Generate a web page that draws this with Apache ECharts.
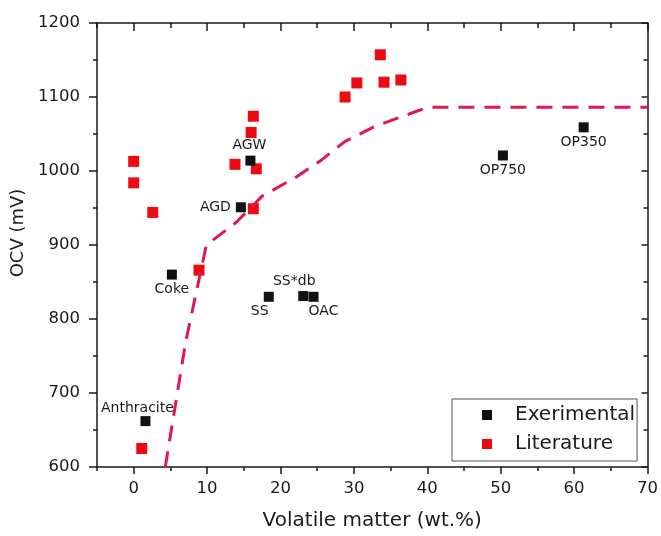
<!DOCTYPE html>
<html>
<head>
<meta charset="utf-8">
<script src="https://cdn.jsdelivr.net/npm/echarts@6/dist/echarts.min.js"></script>
<style>
  html, body { margin: 0; padding: 0; background: #fff; }
  #chart { width: 661px; height: 536px; }
</style>
</head>
<body>
<div id="chart"></div>
<script>
// Experimental samples: name, volatile matter (wt.%), OCV (mV)
const expNames = ['Anthracite', 'Coke', 'AGD', 'AGW', 'SS', 'SS*db', 'OAC', 'OP750', 'OP350'];
const expX = [1.6, 5.2, 14.6, 15.9, 18.4, 23.1, 24.5, 50.3, 61.3];
const expY = [662, 860, 951, 1014, 830, 831, 830, 1021, 1059];

// Values reported in the literature
const litX = [0, 0, 2.6, 13.8, 16.0, 16.3, 16.7, 16.3, 28.8, 30.4, 33.6, 34.1, 36.4, 1.1, 8.9];
const litY = [1013, 984, 944, 1009, 1052, 1074, 1003, 949, 1100, 1119, 1157, 1120, 1123, 625, 866];

// Dashed trend curve
const trendX = [4.3, 7.1, 9.9, 13.9, 17.5, 22.0, 25.6, 28.8, 32.8, 37.8, 40.0, 70.0];
const trendY = [600, 770, 900, 930, 966, 991, 1015, 1040, 1060, 1078, 1086, 1086];

// Axis tick values
const xMajorTicks = [0, 10, 20, 30, 40, 50, 60, 70];
const xMinorTicks = [-5, 5, 15, 25, 35, 45, 55, 65];

// Where each sample name sits relative to its marker
const labelPlace = {
  'Anthracite': { position: 'top', offset: [-8, 3] },
  'Coke': { position: 'bottom', offset: [0, -1] },
  'AGD': { position: 'left', offset: [-1, 0] },
  'AGW': { position: 'top', offset: [-1, 1] },
  'SS': { position: 'bottom', offset: [-9, -1] },
  'SS*db': { position: 'top', offset: [-9, 1] },
  'OAC': { position: 'bottom', offset: [10, -1] },
  'OP750': { position: 'bottom', offset: [0, -1] },
  'OP350': { position: 'bottom', offset: [0, -1] }
};

const FONT = 'DejaVu Sans';
const INK = '#1a1a1a';
const RED = '#ee0a12';
const TREND = '#e2174f';

const expData = expNames.map((n, i) => ({
  name: n,
  value: [expX[i], expY[i]],
  label: Object.assign({ show: true, formatter: '{b}', distance: 4, color: INK, fontSize: 14, fontFamily: FONT }, labelPlace[n])
}));
const litData = litX.map((x, i) => [x, litY[i]]);
const trendData = trendX.map((x, i) => [x, trendY[i]]);

const axisLineStyle = { color: INK, width: 1.5 };
const plain = v => String(v);

const chart = echarts.init(document.getElementById('chart'));
chart.setOption({
  animation: false,
  textStyle: { fontFamily: FONT },
  grid: { left: 97, right: 10, top: 23, bottom: 68 },
  legend: {
    data: ['Exerimental', 'Literature'],
    orient: 'vertical',
    left: 452,
    top: 399,
    icon: 'rect',
    itemWidth: 10,
    itemHeight: 10,
    itemGap: 9,
    padding: [6, 2, 7, 30],
    borderColor: '#555',
    borderWidth: 1,
    textStyle: { fontSize: 20, color: INK, fontFamily: FONT, lineHeight: 20, padding: [0, 0, 0, 18] }
  },
  xAxis: [
    {
      type: 'value', min: -5, max: 70, position: 'bottom',
      name: 'Volatile matter (wt.%)', nameLocation: 'middle', nameGap: 44,
      nameTextStyle: { fontSize: 20, color: INK, fontFamily: FONT },
      axisLine: { onZero: false, lineStyle: axisLineStyle },
      axisTick: { customValues: xMajorTicks, length: 7, lineStyle: axisLineStyle },
      axisLabel: { customValues: xMajorTicks, formatter: plain, fontSize: 16.5, color: INK, margin: 13, fontFamily: FONT },
      splitLine: { show: false }
    },
    {
      type: 'value', min: -5, max: 70, position: 'bottom',
      axisLine: { show: false, onZero: false },
      axisTick: { customValues: xMinorTicks, length: 4, lineStyle: axisLineStyle },
      axisLabel: { show: false },
      splitLine: { show: false }
    },
    {
      type: 'value', min: -5, max: 70, position: 'top',
      axisLine: { onZero: false, lineStyle: axisLineStyle },
      axisTick: { customValues: xMajorTicks, inside: true, length: 8, lineStyle: axisLineStyle },
      axisLabel: { show: false },
      splitLine: { show: false }
    },
    {
      type: 'value', min: -5, max: 70, position: 'top',
      axisLine: { show: false, onZero: false },
      axisTick: { customValues: xMinorTicks, inside: true, length: 5, lineStyle: axisLineStyle },
      axisLabel: { show: false },
      splitLine: { show: false }
    }
  ],
  yAxis: [
    {
      type: 'value', min: 600, max: 1200, interval: 100, position: 'left',
      name: 'OCV (mV)', nameLocation: 'middle', nameGap: 60,
      nameTextStyle: { fontSize: 18, color: INK, fontFamily: FONT, padding: [0, 0, 0, 24] },
      axisLine: { show: true, onZero: false, lineStyle: axisLineStyle },
      axisTick: { show: true, length: 8, lineStyle: axisLineStyle },
      minorTick: { show: true, splitNumber: 2, length: 4, lineStyle: axisLineStyle },
      axisLabel: { formatter: plain, fontSize: 16.5, color: INK, margin: 17, fontFamily: FONT },
      splitLine: { show: false }
    },
    {
      type: 'value', min: 600, max: 1200, interval: 100, position: 'right',
      axisLine: { show: true, onZero: false, lineStyle: axisLineStyle },
      axisTick: { show: true, inside: true, length: 6, lineStyle: axisLineStyle },
      minorTick: { show: true, splitNumber: 2, length: 4, lineStyle: axisLineStyle },
      axisLabel: { show: false },
      splitLine: { show: false }
    }
  ],
  series: [
    {
      name: 'trend', type: 'line', data: trendData,
      xAxisIndex: 0, yAxisIndex: 0,
      showSymbol: false, symbol: 'none', clip: true,
      lineStyle: { color: TREND, width: 3, type: [16, 10] },
      silent: true
    },
    {
      name: 'Literature', type: 'scatter', data: litData,
      xAxisIndex: 0, yAxisIndex: 0,
      symbol: 'rect', symbolSize: 11,
      itemStyle: { color: RED, opacity: 1 }
    },
    {
      name: 'Exerimental', type: 'scatter', data: expData,
      xAxisIndex: 0, yAxisIndex: 0,
      symbol: 'rect', symbolSize: 10,
      itemStyle: { color: '#111', opacity: 1 }
    }
  ]
});
</script>
</body>
</html>
